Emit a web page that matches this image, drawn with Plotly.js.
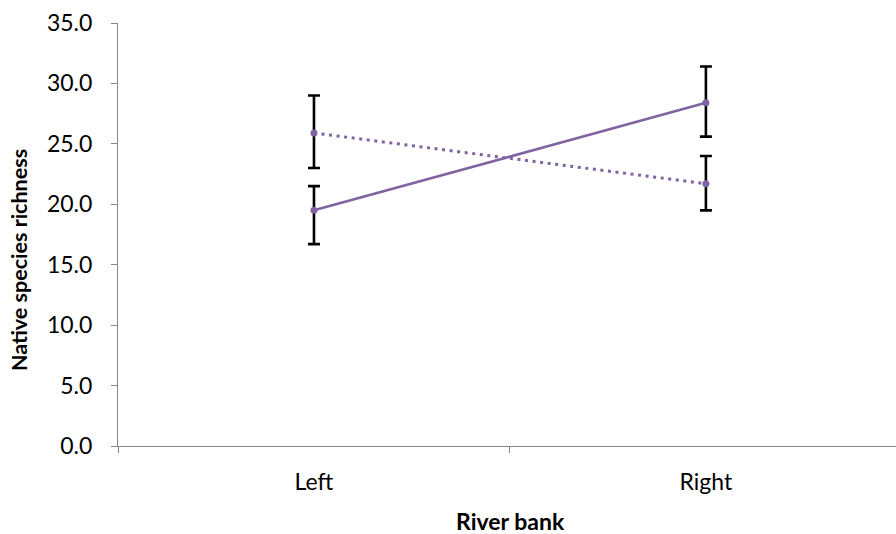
<!DOCTYPE html>
<html>
<head>
<meta charset="utf-8">
<script src="https://cdn.plot.ly/plotly-3.0.1.min.js"></script>
<style>
  html, body { margin: 0; padding: 0; background: #fff; overflow: hidden; }
  #chart { width: 896px; height: 534px; }
</style>
</head>
<body>
<div id="chart"></div>
<script>
// River bank categories
const banks = ['Left', 'Right'];

// Series A (solid line): mean native species richness and error bar extents
const solidMean = [19.5, 28.4];
const solidErrPlus = [2.0, 3.0];
const solidErrMinus = [2.8, 2.8];

// Series B (dotted line)
const dottedMean = [25.9, 21.7];
const dottedErrPlus = [3.1, 2.3];
const dottedErrMinus = [2.9, 2.2];

// Y-axis tick values
const yTicks = [0, 5, 10, 15, 20, 25, 30, 35];

// Axis titles
const xTitle = 'River bank';
const yTitle = 'Native species richness';

const purple = '#8064A2';
const axisGrey = '#868686';
const fontFamily = 'Lato, Carlito, Calibri, sans-serif';

function errorBars(plus, minus) {
  return {
    type: 'data', symmetric: false,
    array: plus, arrayminus: minus,
    color: '#000000', thickness: 2.6, width: 6
  };
}

const traces = [
  {
    x: banks, y: dottedMean, type: 'scatter', mode: 'lines+markers',
    line: { color: purple, width: 3, dash: '3px,4.6px' },
    marker: { color: purple, size: 7 },
    error_y: errorBars(dottedErrPlus, dottedErrMinus),
    hoverinfo: 'x+y'
  },
  {
    x: banks, y: solidMean, type: 'scatter', mode: 'lines+markers',
    line: { color: purple, width: 2.6 },
    marker: { color: purple, size: 7 },
    error_y: errorBars(solidErrPlus, solidErrMinus),
    hoverinfo: 'x+y'
  }
];

const layout = {
  width: 896, height: 534,
  margin: { l: 118, r: 0, t: 23, b: 88 },
  paper_bgcolor: '#ffffff', plot_bgcolor: '#ffffff',
  showlegend: false,
  font: { family: fontFamily, color: '#000000', size: 23 },
  xaxis: {
    type: 'category',
    range: [-0.5, 1.485],
    showgrid: false, zeroline: false,
    showline: true, linecolor: axisGrey, linewidth: 1,
    ticks: 'outside', tickson: 'boundaries', ticklen: 6, tickcolor: axisGrey,
    ticklabelstandoff: 15,
    tickfont: { family: fontFamily, size: 23, color: '#000000' }
  },
  yaxis: {
    range: [0, 35],
    tickvals: yTicks,
    tickformat: '.1f',
    showgrid: false, zeroline: false,
    showline: true, linecolor: axisGrey, linewidth: 1,
    ticks: 'outside', ticklen: 6, tickcolor: axisGrey,
    ticklabelstandoff: 14,
    tickfont: { family: fontFamily, size: 23, color: '#000000' }
  },
  annotations: [
    {
      text: '<b>' + xTitle + '</b>', xref: 'paper', yref: 'paper',
      x: 0.505, y: -0.177, xanchor: 'center', yanchor: 'middle',
      showarrow: false, font: { family: fontFamily, size: 23, color: '#000000' }
    },
    {
      text: '<b>' + yTitle + '</b>', xref: 'paper', yref: 'paper',
      x: -0.127, y: 0.44, xanchor: 'center', yanchor: 'middle', textangle: -90,
      showarrow: false, font: { family: fontFamily, size: 21.5, color: '#000000' }
    }
  ]
};

Plotly.newPlot('chart', traces, layout, { displayModeBar: false, staticPlot: true });
</script>
</body>
</html>
